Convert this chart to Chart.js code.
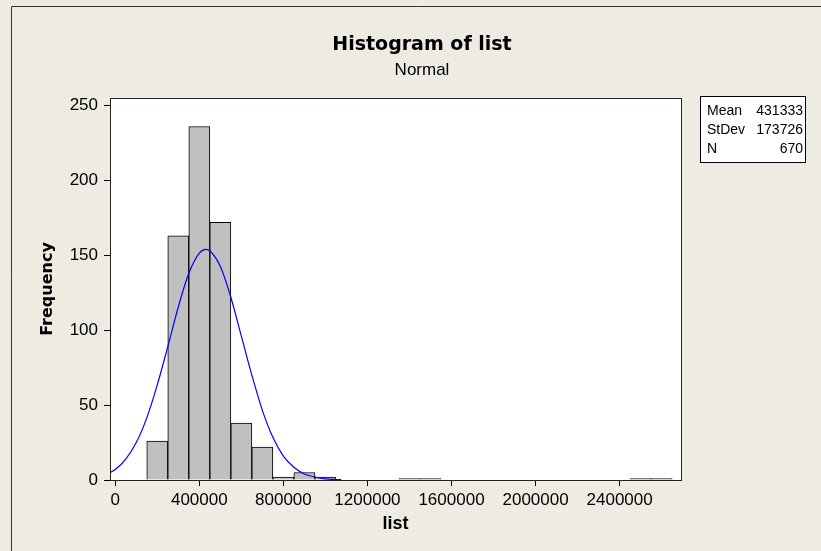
<!DOCTYPE html>
<html>
<head>
<meta charset="utf-8">
<title>Histogram of list</title>
<script src="https://cdn.jsdelivr.net/npm/chart.js@4.4.1/dist/chart.umd.min.js"></script>
<style>
  html, body { margin: 0; padding: 0; background: #eeebe2; }
  #wrap { width: 821px; height: 551px; position: relative; }
</style>
</head>
<body>
<div id="wrap"><canvas id="hist"></canvas></div>
<script>
// histogram bins (bin width 100000)
const binCenters = [200000, 300000, 400000, 500000, 600000, 700000, 800000, 900000, 1000000, 1400000, 1500000, 2500000, 2600000];
const binCounts = [26, 163, 236, 172, 38, 22, 2, 5, 2, 1, 1, 1, 1];

// fitted normal curve
const curveX = [-25000, 0, 50000, 100000, 150000, 200000, 250000, 300000, 350000, 400000, 430000, 450000, 500000, 550000, 600000, 650000, 700000, 750000, 800000, 850000, 900000, 950000, 1000000, 1050000, 1075000];
const curveY = [5, 7, 14, 25, 41.5, 63.5, 89, 115.5, 138, 151.5, 154, 153, 142.5, 122, 96, 70, 46.5, 28.5, 16, 8.5, 4, 2, 0.7, 0.3, 0.2];

const xTicks = [0, 400000, 800000, 1200000, 1600000, 2000000, 2400000];
const yTicks = [0, 50, 100, 150, 200, 250];

const statLabels = ["Mean", "StDev", "N"];
const statValues = ["431333", "173726", "670"];

const BG = "#eeebe2";

const framePlugin = {
  id: "frame",
  beforeDraw(chart) {
    const { ctx, chartArea: a } = chart;
    ctx.save();
    ctx.fillStyle = BG;
    ctx.fillRect(0, 0, chart.width, chart.height);
    // outer border (left + top)
    ctx.strokeStyle = "#333";
    ctx.lineWidth = 1;
    ctx.beginPath();
    ctx.moveTo(11.5, chart.height);
    ctx.lineTo(11.5, 6.5);
    ctx.lineTo(chart.width, 6.5);
    ctx.stroke();
    ctx.fillStyle = "#fff";
    ctx.fillRect(a.left, a.top, a.right - a.left, a.bottom - a.top);
    ctx.restore();
  },
  afterDraw(chart) {
    const { ctx, chartArea: a } = chart;
    ctx.save();
    ctx.strokeStyle = "#222";
    ctx.lineWidth = 1;
    ctx.strokeRect(Math.round(a.left) + 0.5, Math.round(a.top) + 0.5, Math.round(a.right - a.left), Math.round(a.bottom - a.top));

    // stats box
    const bx = 700.5, by = 96.5, bw = 105, bh = 66;
    ctx.fillStyle = "#fff";
    ctx.fillRect(bx, by, bw, bh);
    ctx.strokeStyle = "#000";
    ctx.strokeRect(bx, by, bw, bh);
    ctx.fillStyle = "#000";
    ctx.font = "14px 'Liberation Sans', Arial, sans-serif";
    ctx.textBaseline = "middle";
    statLabels.forEach((lab, i) => {
      const y = 111 + i * 19;
      ctx.textAlign = "left";
      ctx.fillText(lab, 707, y);
      ctx.textAlign = "right";
      ctx.fillText(statValues[i], 803, y);
    });
    ctx.restore();
  },
};

Chart.defaults.font.family = "'Liberation Sans', Arial, sans-serif";
Chart.defaults.color = "#000";

new Chart(document.getElementById("hist"), {
  type: "bar",
  data: {
    datasets: [
      {
        type: "line",
        label: "Normal",
        data: curveX.map((x, i) => ({ x, y: curveY[i] })),
        borderColor: "#0000ff",
        borderWidth: 1.2,
        pointRadius: 0,
        fill: false,
        cubicInterpolationMode: "monotone",
        order: 0,
      },
      {
        label: "list",
        data: binCenters.map((x, i) => ({ x, y: binCounts[i] })),
        backgroundColor: "#c0c0c0",
        borderColor: "#000",
        borderWidth: 1,
        barPercentage: 1,
        categoryPercentage: 1,
        order: 1,
      },
    ],
  },
  options: {
    responsive: true,
    maintainAspectRatio: false,
    animation: false,
    layout: { padding: { left: 23, right: 0, top: 0, bottom: 0 } },
    plugins: {
      legend: { display: false },
      tooltip: { enabled: false },
      title: {
        display: true,
        text: "Histogram of list",
        font: { family: "'DejaVu Sans', sans-serif", size: 19, weight: "bold" },
        padding: { top: 33.6, bottom: 0 },
      },
      subtitle: {
        display: true,
        text: "Normal",
        font: { size: 17 },
        color: "#000",
        padding: { top: 3.4, bottom: 17.8 },
      },
    },
    scales: {
      x: {
        type: "linear",
        min: -25000,
        max: 2692000,
        offset: false,
        afterFit: (s) => { s.height = 71; },
        afterBuildTicks: (s) => { s.ticks = xTicks.map((v) => ({ value: v })); },
        ticks: { font: { size: 17 }, maxRotation: 0, autoSkip: false, padding: 4, callback: (v) => String(v) },
        grid: { offset: false, drawOnChartArea: false, drawTicks: true, tickLength: 6, color: "#000" },
        border: { display: true, color: "#000" },
        title: { display: true, text: "list", font: { size: 18, weight: "bold" }, padding: { top: 0, bottom: 16 } },
      },
      y: {
        min: 0,
        max: 255,
        afterFit: (s) => { s.width = 87; },
        afterBuildTicks: (s) => { s.ticks = yTicks.map((v) => ({ value: v })); },
        ticks: { font: { size: 17 }, padding: 6 },
        grid: { drawOnChartArea: false, drawTicks: true, tickLength: 6, color: "#000" },
        border: { display: true, color: "#555" },
        title: { display: true, text: "Frequency", font: { family: "'DejaVu Sans', sans-serif", size: 16, weight: "bold" }, padding: { top: 15, bottom: 0 } },
      },
      // empty right-hand strip that holds the stats box
      side: {
        position: "right",
        display: true,
        afterFit: (s) => { s.width = 140; },
        ticks: { display: false },
        grid: { display: false, drawTicks: false },
        border: { display: false },
      },
    },
  },
  plugins: [framePlugin],
});
</script>
</body>
</html>
